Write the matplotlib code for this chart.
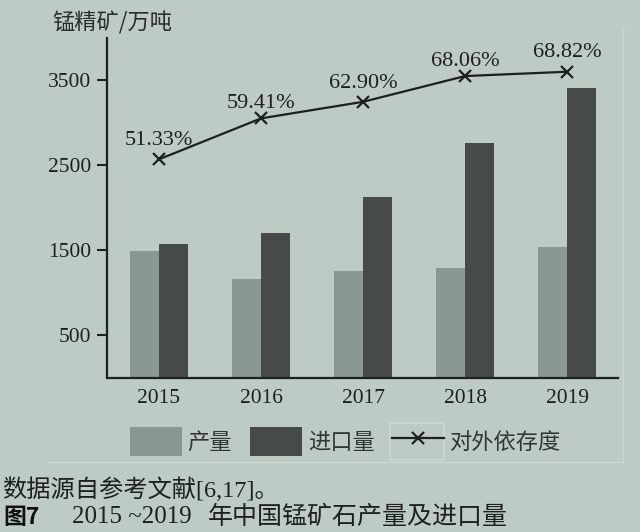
import matplotlib.pyplot as plt
from matplotlib.patches import Rectangle
from matplotlib.lines import Line2D
import numpy as np

years = ["2015", "2016", "2017", "2018", "2019"]
production = [1490, 1160, 1255, 1290, 1540]
imports = [1575, 1705, 2120, 2755, 3405]
# position of dependence line on left axis scale, and its labels
dependence_pos = [2567, 3049, 3244, 3547, 3598]
dependence_txt = ["51.33%", "59.41%", "62.90%", "68.06%", "68.82%"]

bg = "#bdcbc4"
c_prod = "#8b9791"
c_imp = "#464a48"
ink = "#1e201f"
faint = "#cbd6d0"

plt.rcParams['font.family'] = ['Liberation Serif', 'Noto Sans CJK SC']

fig = plt.figure(figsize=(6.4, 5.32), dpi=100, facecolor=bg)
ax = fig.add_axes([0.167, 0.2904, 0.799, 0.639])
ax.set_facecolor(bg)

x = np.arange(len(years))
w = 0.285
b1 = ax.bar(x - w / 2, production, w, color=c_prod, label="产量")
b2 = ax.bar(x + w / 2, imports, w, color=c_imp, label="进口量")
l1, = ax.plot(x, dependence_pos, color=ink, lw=1.6, marker='x', ms=9,
              mew=1.6, label="对外依存度")

offsets = [19, 15, 18, 15, 19]
for xi, yi, t, o in zip(x, dependence_pos, dependence_txt, offsets):
    ax.annotate(t, (xi, yi), xytext=(0, o), textcoords='offset pixels',
                ha='center', va='center', fontsize=16, color=ink)

ax.set_xlim(-0.51, 4.5)
ax.set_ylim(0, 4000)
ax.set_xticks(x)
ax.set_xticklabels(years)
ax.set_yticks([500, 1500, 2500, 3500])
ax.tick_params(axis='y', length=7, width=1.5, color=ink, labelsize=15.5,
               labelcolor=ink, pad=4)
ax.tick_params(axis='x', length=0, labelsize=15.5, labelcolor=ink, pad=8)
for s in ['top', 'right']:
    ax.spines[s].set_visible(False)
for s in ['left', 'bottom']:
    ax.spines[s].set_color(ink)
    ax.spines[s].set_linewidth(1.6)

fig.text(0.081, 0.957, "锰精矿/万吨", fontsize=16, color="#2a2c2b", ha='left',
         va='center', family=['Noto Sans CJK SC'])

# faint bottom/right edges of the legend panel
fig.lines.append(Line2D([0.075, 0.973, 0.973], [0.132, 0.132, 0.95],
                        transform=fig.transFigure, color=faint, lw=1))
leg = fig.legend([b1, b2, l1], ["产量", "进口量", "对外依存度"],
                 loc='center', bbox_to_anchor=(0.540, 0.170), ncol=3,
                 frameon=False,
                 handlelength=2.35, handleheight=1.67, handletextpad=0.25,
                 columnspacing=0.8, borderpad=0.3,
                 prop={'family': ['Noto Sans CJK SC'], 'size': 16})
for t in leg.get_texts():
    t.set_color("#333534")
fig.patches.append(Rectangle((0.609, 0.1353), 0.084, 0.0695, transform=fig.transFigure,
                             fill=False, edgecolor=faint, lw=1.2))

fig.text(0.003, 0.079, "数据源自参考文献[6,17]。", fontsize=17.5, color=ink,
         ha='left', va='center')
fig.text(0.006, 0.028, "图7", fontsize=16.5, color="#111", ha='left',
         va='center', family=['Noto Sans CJK SC'], weight='bold')
fig.text(0.1125, 0.028, "2015 ~2019", fontsize=18, color=ink,
         ha='left', va='center')
fig.text(0.325, 0.028, "年中国锰矿石产量及进口量", fontsize=18,
         color=ink, ha='left', va='center')

fig.savefig("out.png", dpi=100, facecolor=bg)
